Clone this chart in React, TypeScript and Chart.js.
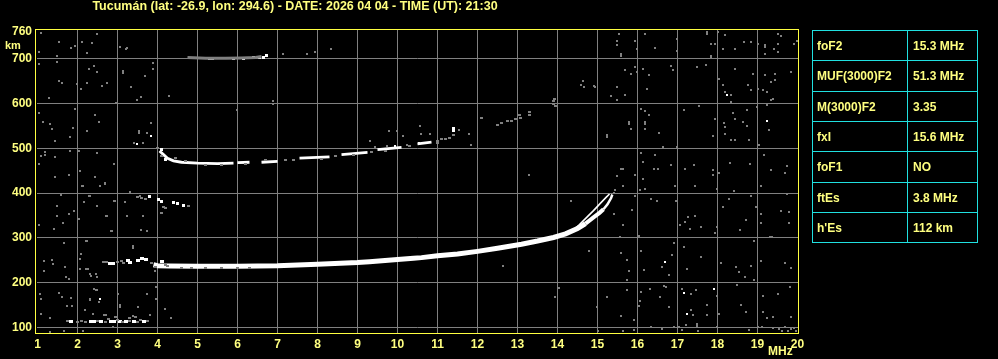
import React, { useEffect, useRef } from "react";
import { Chart, registerables } from "chart.js";

Chart.register(...registerables);

const TITLE = "Tucumán (lat: -26.9, lon: 294.6) - DATE: 2026 04 04 - TIME (UT): 21:30";
const xTicks = [1, 2, 3, 4, 5, 6, 7, 8, 9, 10, 11, 12, 13, 14, 15, 16, 17, 18, 19, 20];
const yTicks = [100, 200, 300, 400, 500, 600, 700, 760];
const xUnit = "MHz";
const yUnit = "km";

const paramNames = ["foF2", "MUF(3000)F2", "M(3000)F2", "fxI", "foF1", "ftEs", "h'Es"];
const paramValues = ["15.3 MHz", "51.3 MHz", "3.35", "15.6 MHz", "NO", "3.8 MHz", "112 km"];

// F2 ordinary trace (MHz, km)
const f2Trace: [number, number][] = [
  [3.9, 240], [4.0, 238], [4.3, 237.5], [5, 237], [6, 237], [7, 238], [8, 241], [9, 245],
  [9.3, 247], [10, 252], [10.4, 254.5], [10.6, 256], [11, 260], [11.5, 264], [12, 270],
  [12.5, 277], [13.1, 286], [13.5, 293], [13.9, 301], [14.2, 309], [14.5, 321], [14.7, 332],
  [14.9, 346], [15.05, 356], [15.15, 364], [15.25, 375], [15.34, 389], [15.37, 397],
];
// second (thin) trace near the cusp
const f2Thin: [number, number][] = [
  [14.4, 318], [14.55, 330], [14.73, 346], [14.9, 361], [15.1, 380], [15.22, 391], [15.3, 398],
];
// second hop 2F2 (null = gap)
const f2Hop2: [number, number | null][] = [
  [4.05, 494], [4.15, 486], [4.25, 478], [4.4, 472], [4.6, 469], [5.0, 467], [5.5, 466], [5.9, 467],
  [5.95, null], [6.0, 468], [6.3, 469], [6.4, null], [6.6, 469], [7.0, 471], [7.3, null], [7.55, 478], [8.3, 481],
  [8.45, null], [8.6, 486], [9.25, 491], [9.4, null], [9.5, 497], [10.1, 502], [10.3, null],
  [10.5, 510], [10.85, 514],
];
const f2Hop2Gray: [number, number][] = [
  [11.0, 517], [11.1, 520], [11.2, 522], [11.3, 524], [11.4, 530], [11.0, 512], [12.09, 568],
  [12.5, 552], [12.6, 556], [12.75, 560], [12.85, 562], [12.95, 566], [13.05, 575], [13.07, 568],
  [13.29, 575], [13.29, 582], [13.9, 600], [13.9, 606], [13.93, 611], [13.95, 595],
  [4.45, 478], [4.7, 472], [6.2, 465], [6.7, 473], [7.2, 474], [8.1, 476], [8.9, 485], [9.7, 494],
  [4.0, 500], [4.1, 482], [5.2, 463], [5.6, 463], [7.4, 475], [8.45, 483], [9.35, 492], [10.3, 505],
];
const f2Hop2White: [number, number][] = [[11.4, 544], [11.4, 540], [4.1, 497], [4.2, 476]];
// third hop near 700 km
const f2Hop3: [number, number][] = [[4.75, 703], [5.2, 701], [5.7, 701], [6.1, 702], [6.45, 703], [6.6, 705]];
const f2Hop3White: [number, number][] = [
  [5.3, 700], [5.38, 700], [5.9, 701], [6.15, 701], [6.4, 702], [6.55, 703], [6.65, 704], [6.72, 708],
];
// sporadic E and its echoes
const esWhite: [number, number][] = [
  [1.84, 113], [2.34, 113], [2.42, 113], [2.59, 113], [2.84, 113], [2.92, 113], [3.05, 114],
  [3.22, 113], [3.4, 113], [3.67, 114],
];
const esGray: [number, number][] = [
  [1.75, 115], [2.0, 113], [2.1, 114], [2.2, 112], [2.5, 114], [2.7, 112], [3.0, 116], [3.12, 112],
  [3.3, 114], [3.5, 112], [3.58, 116], [3.75, 115], [2.78, 118], [3.3, 121], [2.95, 124], [3.45, 124],
];
const es2White: [number, number][] = [
  [2.8, 244], [2.88, 244], [3.25, 250], [3.32, 246], [3.5, 249], [3.62, 254], [3.7, 251], [4.12, 247],
];
const es2Gray: [number, number][] = [
  [2.65, 247], [2.72, 246], [3.0, 246], [3.1, 248], [3.15, 244], [3.85, 243], [3.95, 236],
  [4.2, 240], [4.25, 237], [4.6, 232], [4.85, 232], [5.2, 233], [5.6, 232], [6.0, 232], [6.3, 233],
];
const mid380White: [number, number][] = [[3.79, 392], [4.02, 385], [4.1, 382], [4.4, 378], [4.5, 376], [4.64, 372]];
const mid380Gray: [number, number][] = [
  [3.5, 392], [3.6, 389], [3.7, 386], [4.15, 370], [4.2, 366], [4.78, 372], [4.1, 355],
];

const noiseWhite: [number, number][] = [
  [2.55, 164], [3.83, 528], [3.49, 510], [10.53, 511], [10.69, 513], [9.94, 506], [18.23, 620],
  [19.24, 562], [16.69, 246], [17.15, 177], [17.9, 186], [17.23, 131],
];

const noiseGray: [number, number][] = [
  [1.09, 758], [1.03, 716], [1.54, 737], [1.84, 725], [1.93, 729], [2.11, 738], [2.23, 714], [2.35, 735],
  [2.49, 756], [1.48, 707], [1.03, 688], [1.48, 692], [1.53, 651], [1.61, 647], [1.98, 644], [2.28, 677],
  [2.4, 683], [2.49, 670], [2.24, 647], [2.09, 632], [2.61, 640], [2.74, 647], [1.28, 612], [1.03, 580],
  [1.14, 558], [1.32, 554], [1.36, 543], [1.44, 517], [1.94, 588], [2.44, 575], [2.53, 558], [2.24, 539],
  [1.89, 545], [1.8, 526], [1.18, 491], [1.18, 486], [1.08, 484], [1.44, 481], [1.8, 493], [2.03, 495],
  [2.49, 490], [1.03, 464], [1.44, 437], [1.79, 441], [2.07, 450], [2.11, 417], [2.44, 437], [2.57, 417],
  [2.69, 423], [2.9, 464], [1.59, 396], [1.48, 372], [1.48, 350], [1.78, 354], [1.9, 360], [2.03, 343],
  [1.63, 334], [1.4, 320], [1.03, 328], [2.28, 394], [2.15, 380], [2.49, 372], [2.74, 350], [2.86, 316],
  [2.9, 383], [1.66, 288], [2.24, 293], [1.15, 248], [1.36, 251], [1.38, 242], [1.69, 235], [1.15, 227],
  [2.07, 253], [2.07, 231], [2.25, 231], [2.34, 216], [1.78, 209], [1.72, 212], [2.49, 212], [1.07, 175],
  [1.08, 164], [1.53, 177], [1.61, 169], [1.84, 166], [1.73, 147], [1.86, 147], [1.09, 131], [1.3, 121],
  [2.3, 162], [2.4, 186], [2.49, 183], [2.53, 156], [2.19, 138], [2.65, 127], [1.65, 93], [1.3, 90],
  [2.13, 417], [2.55, 417], [2.68, 420], [2.3, 394], [2.93, 383], [3.18, 380], [3.55, 394], [3.3, 402],
  [2.72, 350], [3.23, 350], [3.63, 350], [3.59, 318], [3.74, 315], [2.84, 316], [3.38, 283], [3.38, 278],
  [2.09, 264], [2.22, 293], [2.31, 220], [2.47, 220], [2.22, 231], [3.93, 227], [3.97, 191], [3.74, 174],
  [2.47, 183], [2.31, 164], [3.01, 175], [3.51, 145], [3.05, 145], [3.05, 150], [4.18, 142], [4.34, 122],
  [3.8, 129], [3.39, 125], [2.72, 128], [2.38, 131], [3.97, 164], [2.14, 93], [2.88, 101],
  [3.07, 726], [3.2, 721], [3.24, 725], [3.88, 691], [3.88, 678], [3.13, 672], [3.13, 668], [3.69, 661],
  [3.33, 638], [3.58, 615], [3.49, 607], [4.29, 616], [2.97, 602], [3.83, 557], [5.98, 585], [6.88, 605],
  [6.88, 600], [7.13, 710], [7.73, 711], [7.94, 716], [8.33, 721],
  [3.53, 539], [3.53, 535], [3.74, 534], [3.4, 513], [3.63, 511], [9.78, 539], [9.98, 539], [10.13, 528],
  [10.57, 551], [10.58, 532], [10.8, 532], [10.23, 508], [9.3, 517], [9.44, 504], [9.73, 506],
  [15.54, 756], [15.48, 740], [15.48, 731], [15.58, 711], [15.58, 707], [15.94, 740], [15.98, 722],
  [16.19, 756], [16.44, 725], [16.98, 744], [16.98, 717], [17.73, 760], [17.73, 756], [17.84, 733],
  [17.93, 733], [17.84, 707], [17.84, 702], [18.02, 760], [18.19, 753], [18.14, 721], [18.44, 721],
  [18.65, 737], [18.84, 737], [19.02, 733], [19.19, 731], [19.19, 727], [19.19, 711], [19.4, 721],
  [19.52, 733], [19.52, 756], [19.59, 752], [19.9, 733], [19.98, 740], [19.52, 716],
  [15.69, 674], [15.83, 667], [15.94, 681], [16.13, 678], [16.28, 664], [15.98, 670], [16.83, 685],
  [16.88, 674], [17.49, 681], [17.72, 687], [18.03, 655], [18.14, 642], [18.19, 626], [18.34, 620],
  [18.34, 603], [18.44, 678], [18.77, 641], [18.84, 630], [18.89, 665], [19.02, 633], [19.13, 630],
  [19.19, 663], [19.23, 626], [19.33, 648], [19.44, 667], [19.44, 652], [19.38, 611], [19.34, 607],
  [19.84, 670], [19.23, 597], [16.23, 633], [15.48, 637], [15.69, 620], [15.34, 616], [15.48, 607],
  [14.59, 641], [14.64, 650], [14.66, 638], [14.9, 640], [14.94, 637],
  [16.08, 589], [16.19, 583], [16.29, 575], [15.78, 559], [15.78, 555], [15.83, 544], [16.19, 559],
  [16.19, 555], [16.19, 544], [16.53, 535], [15.23, 529], [15.23, 525], [16.63, 503], [16.98, 503],
  [17.15, 585], [17.54, 594], [17.94, 566], [17.88, 527], [18.15, 557], [18.19, 548], [18.19, 531],
  [18.34, 518], [18.44, 518], [18.38, 580], [18.44, 565], [18.63, 559], [18.73, 551], [18.73, 585],
  [18.78, 518], [18.98, 592], [19.28, 540], [19.04, 508],
  [16.08, 490], [16.13, 470], [16.44, 486], [16.4, 455], [16.5, 453], [15.59, 455], [15.63, 455],
  [15.48, 438], [15.94, 441], [16.13, 432], [16.83, 463], [17.19, 455], [17.4, 463], [17.88, 451],
  [18.03, 446], [17.88, 441], [18.3, 468], [18.8, 464], [19.15, 486], [19.33, 451], [19.73, 460],
  [19.69, 446], [13.29, 441], [11.79, 531], [11.84, 508], [11.54, 540],
  [14.34, 382], [15.43, 406], [15.4, 400], [15.63, 417], [15.94, 394], [16.07, 406], [16.19, 410],
  [16.34, 387], [16.48, 383], [16.93, 415], [16.97, 383], [17.44, 417], [17.98, 409], [18.4, 404],
  [18.84, 394], [19.08, 415], [19.73, 397], [15.42, 354], [15.63, 329], [15.87, 363], [16.04, 305],
  [15.57, 303], [17.05, 329], [17.19, 335], [17.27, 346], [17.44, 350], [17.3, 320], [17.59, 324],
  [17.94, 310], [17.98, 325], [18.14, 368], [18.28, 387], [18.57, 318], [18.72, 340], [18.9, 294],
  [18.97, 368], [19.08, 354], [19.08, 334], [19.59, 360], [19.78, 357], [19.78, 334], [19.3, 301],
  [19.36, 301], [14.78, 270], [15.58, 266], [15.73, 251], [16.09, 270], [16.9, 288], [16.86, 261],
  [17.15, 279], [17.23, 231], [17.59, 257], [16.61, 234], [16.78, 218], [16.15, 229], [15.78, 226],
  [15.73, 205], [18.09, 243], [18.47, 236], [18.53, 223], [18.69, 212], [18.84, 238], [19.08, 249],
  [18.9, 205], [19.69, 243], [19.84, 233], [12.63, 238], [14.03, 189], [13.94, 168], [15.23, 168],
  [15.73, 183], [16.08, 179], [16.32, 186], [16.57, 168], [16.66, 192], [16.72, 190], [17.11, 186],
  [17.33, 175], [17.46, 184], [17.73, 151], [17.98, 170], [18.48, 194], [19.13, 171], [19.5, 175],
  [19.8, 190], [14.98, 145], [15.59, 125], [15.9, 116], [16.03, 147], [16.07, 160], [16.78, 145],
  [17.33, 138], [17.38, 128], [17.48, 104], [17.48, 108], [17.73, 127], [18.03, 130], [18.58, 151],
  [18.72, 134], [19.13, 135], [19.24, 122], [19.39, 124], [19.84, 124], [19.11, 101], [19.39, 99],
  [19.54, 97], [19.69, 101], [19.84, 97], [19.92, 99], [19.02, 101], [18.78, 95], [17.98, 100],
  [16.9, 102], [17.03, 101], [17.2, 106], [16.34, 101], [16.6, 97], [15.9, 95], [15.63, 93],
  [15.02, 93], [19.6, 92], [19.75, 92], [19.95, 92], [17.5, 92], [17.1, 95],
];

const GRAY = "#808080";
const WHITE = "#ffffff";
const YELLOW_TEXT = "#ffff80";
const YELLOW_LINE = "#ffff40";
const CYAN = "#20e0e0";
const FONT = '"Liberation Sans", Arial, sans-serif';

const toXY = (arr: [number, number | null][]) => arr.map(([x, y]) => ({ x, y }));

// small solid pixel sprites used as point styles (crisp ionogram pixels)
const sprite = (w: number, h: number, color: string) => {
  const c = document.createElement("canvas");
  c.width = w;
  c.height = h;
  const g = c.getContext("2d")!;
  g.fillStyle = color;
  g.fillRect(0, 0, w, h);
  return c;
};

const dots = (label: string, arr: [number, number][], style: HTMLCanvasElement) => ({
  label,
  data: toXY(arr),
  showLine: false,
  pointStyle: style,
  pointRadius: 2,
  pointHoverRadius: 2,
  pointBorderWidth: 0,
});

const framePlugin = {
  id: "ionoFrame",
  beforeDatasetsDraw(chart: any) {
    chart.ctx.imageSmoothingEnabled = false;
  },
  afterDraw(chart: any) {
    const { ctx, chartArea: a } = chart;
    ctx.save();
    ctx.strokeStyle = YELLOW_LINE;
    ctx.lineWidth = 1;
    ctx.strokeRect(a.left - 1.5, a.top - 0.5, a.right - a.left + 2, a.bottom - a.top + 1);
    ctx.fillStyle = YELLOW_TEXT;
    ctx.textBaseline = "middle";
    ctx.textAlign = "center";
    ctx.font = `bold 12.5px ${FONT}`;
    ctx.fillText(TITLE, 295, 7);
    ctx.textAlign = "left";
    ctx.font = `bold 11px ${FONT}`;
    ctx.fillText(yUnit, 5, 45.5);
    ctx.font = `bold 12px ${FONT}`;
    ctx.fillText(xUnit, 768, 351.5);
    ctx.restore();
  },
};

export default function App() {
  const ref = useRef<HTMLCanvasElement>(null);

  useEffect(() => {
    document.body.style.margin = "0";
    document.body.style.background = "#000";
    const canvas = ref.current;
    if (!canvas) return;
    const grayDot = sprite(2, 2, GRAY);
    const grayBlock = sprite(3, 2, GRAY);
    const whiteDot = sprite(2, 2, WHITE);
    const whiteBlock = sprite(4, 3, WHITE);
    const whiteMid = sprite(3, 3, WHITE);
    const datasets: any[] = [
      dots("noise", noiseGray, grayDot),
      dots("2F gray", f2Hop2Gray, grayBlock),
      dots("Es gray", esGray, grayBlock),
      dots("2Es gray", es2Gray, grayBlock),
      dots("380 gray", mid380Gray, grayBlock),
      {
        label: "3F",
        data: toXY(f2Hop3),
        showLine: true,
        borderColor: GRAY,
        borderWidth: 3,
        pointRadius: 0,
      },
      dots("noise white", noiseWhite, whiteDot),
      dots("Es", esWhite, whiteBlock),
      dots("2Es", es2White, whiteBlock),
      dots("380", mid380White, whiteMid),
      dots("3F white", f2Hop3White, whiteMid),
      dots("2F white", f2Hop2White, whiteMid),
      {
        label: "2F",
        data: toXY(f2Hop2),
        showLine: true,
        spanGaps: false,
        borderColor: WHITE,
        borderWidth: 2.8,
        pointRadius: 0,
      },
      {
        label: "F2 thin",
        data: toXY(f2Thin),
        showLine: true,
        borderColor: WHITE,
        borderWidth: 1.6,
        pointRadius: 0,
      },
      {
        label: "F2",
        data: toXY(f2Trace),
        showLine: true,
        borderColor: WHITE,
        borderWidth: 5,
        pointRadius: 0,
        segment: {
          borderWidth: (c: any) => (c.p0.parsed.x >= 15.15 ? 2.5 : c.p0.parsed.x >= 14.7 ? 4 : 5),
        },
      },
    ];

    const chart = new Chart(canvas, {
      type: "scatter",
      data: { datasets },
      options: {
        animation: false,
        responsive: false,
        devicePixelRatio: 1,
        events: [],
        layout: { padding: { left: 0, top: 30, right: 200, bottom: 0 } },
        plugins: {
          legend: { display: false },
          tooltip: { enabled: false },
          title: { display: false },
        },
        scales: {
          x: {
            type: "linear",
            min: 0.9875,
            max: 20.0125,
            afterBuildTicks: (s: any) => {
              s.ticks = xTicks.map((v) => ({ value: v }));
            },
            afterFit: (s: any) => {
              s.height = 26;
            },
            border: { display: false },
            grid: {
              drawTicks: false,
              lineWidth: 1,
              color: (c: any) =>
                c.tick && (c.tick.value === xTicks[0] || c.tick.value === xTicks[xTicks.length - 1])
                  ? "rgba(0,0,0,0)"
                  : GRAY,
            },
            ticks: {
              autoSkip: false,
              maxRotation: 0,
              padding: 4,
              color: YELLOW_TEXT,
              font: { family: FONT, size: 12, weight: "bold" },
              callback: (v: any) => String(v),
            },
          },
          y: {
            type: "linear",
            min: 87.7,
            max: 764.3,
            afterBuildTicks: (s: any) => {
              s.ticks = yTicks.map((v) => ({ value: v }));
            },
            afterFit: (s: any) => {
              s.width = 37;
            },
            border: { display: false },
            grid: {
              drawTicks: false,
              lineWidth: 1,
              color: (c: any) =>
                c.tick && c.tick.value === yTicks[yTicks.length - 1] ? "rgba(0,0,0,0)" : GRAY,
            },
            ticks: {
              autoSkip: false,
              padding: 5,
              color: YELLOW_TEXT,
              font: { family: FONT, size: 12, weight: "bold" },
              callback: (v: any) => String(v),
            },
          },
        },
      } as any,
      plugins: [framePlugin],
    });
    return () => chart.destroy();
  }, []);

  const tableLeft = 812;
  const tableTop = 30;
  const colX = [812, 907, 977];
  const rowY = paramNames.map((_, i) => tableTop + Math.round(i * 30.3));
  rowY.push(tableTop + Math.round(paramNames.length * 30.3));
  const tableBottom = rowY[rowY.length - 1];
  const textStyle: React.CSSProperties = {
    position: "absolute",
    display: "flex",
    alignItems: "center",
    color: YELLOW_TEXT,
    font: `bold 12px ${FONT}`,
    whiteSpace: "nowrap",
  };

  return (
    <div style={{ position: "relative", width: 998, height: 359, background: "#000", overflow: "hidden" }}>
      <canvas ref={ref} width={998} height={359} style={{ display: "block", width: 998, height: 359 }} />
      {rowY.map((y, i) => (
        <div
          key={"h" + i}
          style={{ position: "absolute", left: colX[0], top: y, width: colX[2] - colX[0] + 1, height: 1, background: CYAN }}
        />
      ))}
      {colX.map((x, i) => (
        <div
          key={"v" + i}
          style={{ position: "absolute", left: x, top: tableTop, width: 1, height: tableBottom - tableTop + 1, background: CYAN }}
        />
      ))}
      {paramNames.map((name, i) => (
        <React.Fragment key={name}>
          <div style={{ ...textStyle, left: tableLeft + 5, top: rowY[i] + 1, height: rowY[i + 1] - rowY[i] - 1 }}>{name}</div>
          <div style={{ ...textStyle, left: colX[1] + 6, top: rowY[i] + 1, height: rowY[i + 1] - rowY[i] - 1 }}>
            {paramValues[i]}
          </div>
        </React.Fragment>
      ))}
    </div>
  );
}
